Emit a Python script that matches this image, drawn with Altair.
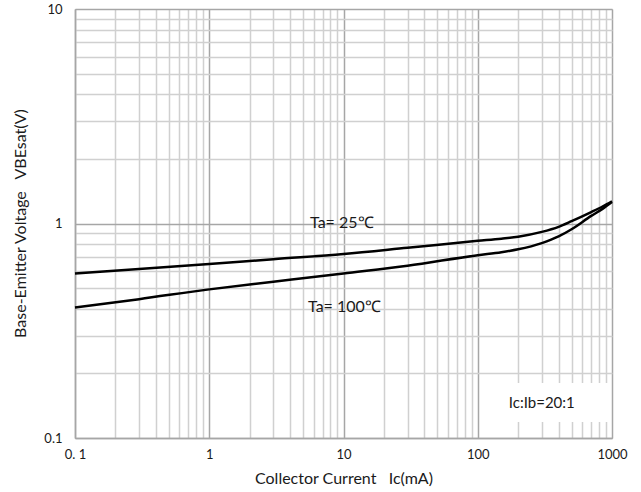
import altair as alt
import pandas as pd

# Collector current Ic (mA) and VBE(sat) (V)
ic_25 = [0.1, 0.3, 1, 3, 10, 30, 100, 150, 200, 300, 400, 500, 700, 850, 1000]
vbe_25 = [0.585, 0.613, 0.647, 0.682, 0.72, 0.77, 0.83, 0.85, 0.868, 0.914, 0.965, 1.025, 1.13, 1.2, 1.27]
ic_100 = [0.1, 0.3, 1, 3, 10, 30, 100, 150, 200, 300, 400, 500, 700, 850, 1000]
vbe_100 = [0.406, 0.444, 0.493, 0.535, 0.585, 0.635, 0.712, 0.735, 0.758, 0.81, 0.87, 0.94, 1.085, 1.17, 1.26]

x_ticks = [0.1, 0.2, 0.3, 0.4, 0.5, 0.6, 0.7, 0.8, 0.9,
           1, 2, 3, 4, 5, 6, 7, 8, 9,
           10, 20, 30, 40, 50, 60, 70, 80, 90,
           100, 200, 300, 400, 500, 600, 700, 800, 900, 1000]
y_ticks = [0.1, 0.2, 0.3, 0.4, 0.5, 0.6, 0.7, 0.8, 0.9,
           1, 2, 3, 4, 5, 6, 7, 8, 9, 10]

df = pd.DataFrame({
    "ic": ic_25 + ic_100,
    "vbe": vbe_25 + vbe_100,
    "series": ["25"] * len(ic_25) + ["100"] * len(ic_100),
})

FONT = "Lato"
TXT = "#1a1a1a"
NB = "\u00a0"

major_test = "abs(log(datum.value)/LN10 - round(log(datum.value)/LN10)) < 0.001"
grid_color = {"condition": {"test": major_test, "value": "#a6a6a6"}, "value": "#d0d0d0"}

xscale = alt.Scale(type="log", domain=[0.1, 1000], nice=False)
yscale = alt.Scale(type="log", domain=[0.1, 10], nice=False)

xaxis = alt.Axis(
    values=x_ticks,
    labelExpr="datum.value == 0.1 ? '0. 1' : datum.value == 1 ? '1' : datum.value == 10 ? '10' : datum.value == 100 ? '100' : datum.value == 1000 ? '1000' : ''",
    ticks=False, labelFlush=False, labelOverlap=False, labelPadding=10,
    grid=True, gridColor=grid_color, gridWidth=1.5,
    domainColor="#a6a6a6", domainWidth=1.5,
    labelFont=FONT, labelFontSize=13, labelColor=TXT,
    title="Collector Current" + NB * 3 + "Ic(mA)", titleFont=FONT, titleFontSize=16,
    titleFontWeight="normal", titleColor=TXT, titleY=40, titleBaseline="middle",
)
yaxis = alt.Axis(
    values=y_ticks,
    labelExpr="datum.value == 0.1 ? '0.1' : datum.value == 1 ? '1' : datum.value == 10 ? '10' : ''",
    ticks=False, labelFlush=False, labelOverlap=False, labelPadding=13,
    grid=True, gridColor=grid_color, gridWidth=1.5,
    domainColor="#a6a6a6", domainWidth=1.5,
    labelFont=FONT, labelFontSize=13, labelColor=TXT,
    title="Base-Emitter Voltage" + NB * 3 + "VBEsat(V)", titleFont=FONT, titleFontSize=16,
    titleFontWeight="normal", titleColor=TXT, titleX=-55, titleY=214,
    titleBaseline="middle", titleAlign="center", titleAngle=-90,
)

lines = alt.Chart(df).mark_line(color="black", strokeWidth=2.5, interpolate="monotone").encode(
    x=alt.X("ic:Q", scale=xscale, axis=xaxis),
    y=alt.Y("vbe:Q", scale=yscale, axis=yaxis),
    detail="series:N",
)

box = alt.Chart(pd.DataFrame({"a": [0]})).mark_rect(color="white").encode(
    x=alt.datum(134), x2=alt.datum(980), y=alt.datum(0.1804), y2=alt.datum(0.1187),
)

def label(txt, xv, yv, align="left", size=16):
    return alt.Chart(pd.DataFrame({"a": [0]})).mark_text(
        text=txt, font=FONT, fontSize=size, color=TXT, align=align, baseline="middle"
    ).encode(x=alt.datum(xv), y=alt.datum(yv))

chart = alt.layer(
    box, lines,
    label("Ta= 25℃", 5.63, 1.004),
    label("Ta= 100℃", 5.44, 0.407),
    label("Ic:Ib=20:1", 300, 0.145, "center", 15),
).properties(
    width=537, height=429,
    autosize=alt.AutoSizeParams(type="none"),
    padding={"left": 75, "top": 9, "right": 29, "bottom": 54},
).configure_view(stroke="#a6a6a6", strokeWidth=1.5).configure(background="white")

chart.save("out.html", embed_options={"renderer": "svg", "actions": False})
